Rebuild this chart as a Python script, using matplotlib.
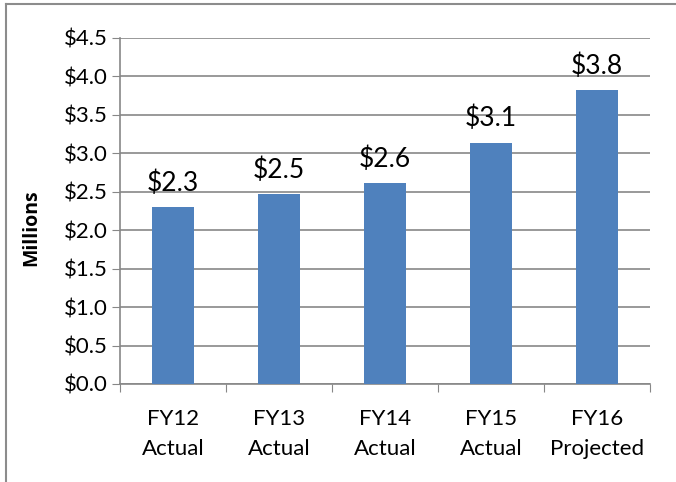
import matplotlib.pyplot as plt
from matplotlib.lines import Line2D

categories = ["FY12\nActual", "FY13\nActual", "FY14\nActual", "FY15\nActual", "FY16\nProjected"]
values = [2.30, 2.47, 2.61, 3.14, 3.82]
labels = ["$2.3", "$2.5", "$2.6", "$3.1", "$3.8"]
yticks = [0.0, 0.5, 1.0, 1.5, 2.0, 2.5, 3.0, 3.5, 4.0, 4.5]

plt.rcParams['font.family'] = ['Lato', 'DejaVu Sans']

W, H = 676, 482
fig = plt.figure(figsize=(W / 100, H / 100), dpi=100)
ax = fig.add_axes([120 / W, 1 - 384 / H, (650 - 120) / W, (384 - 38) / H])

x = list(range(len(categories)))
ax.bar(x, values, width=0.4, color="#4F81BD", zorder=3)
for xi, v, lab in zip(x, values, labels):
    ax.text(xi, v + 0.15, lab, ha="center", va="bottom", fontsize=19, color="black")

ax.set_xlim(-0.5, len(categories) - 0.5)
ax.set_ylim(0, 4.5)
ax.set_yticks(yticks)
ax.set_yticklabels(["$%.1f" % t for t in yticks], fontsize=16)
ax.set_xticks([i - 0.5 for i in range(len(categories) + 1)], minor=False)
ax.set_xticklabels([])
ax.set_xticks(x, minor=True)
ax.set_xticklabels(categories, minor=True, fontsize=16, linespacing=1.65)
ax.tick_params(axis="x", which="minor", length=0, pad=18)
ax.tick_params(axis="x", which="major", length=6, color="#878787", direction="out")
ax.tick_params(axis="y", length=6, color="#878787", direction="out", pad=3)

ax.grid(axis="y", color="#878787", linewidth=1.2, zorder=0)
for s in ["top", "right"]:
    ax.spines[s].set_visible(False)
ax.spines["left"].set_color("#878787")
ax.spines["bottom"].set_color("#878787")
ax.spines["left"].set_linewidth(1.2)
ax.spines["bottom"].set_linewidth(1.2)

fig.text(31 / W, 1 - 228 / H, "Millions", rotation=90, ha="center", va="center",
         fontsize=14, fontweight="bold", family=["Open Sans", "DejaVu Sans"])

# outer border (left and top only visible)
fig.add_artist(Line2D([6 / W, 6 / W], [0, 1 - 4 / H], color="#8c8c8c", linewidth=1.5))
fig.add_artist(Line2D([6 / W, 1], [1 - 4 / H, 1 - 4 / H], color="#8c8c8c", linewidth=1.5))

fig.savefig("out.png", dpi=100)
